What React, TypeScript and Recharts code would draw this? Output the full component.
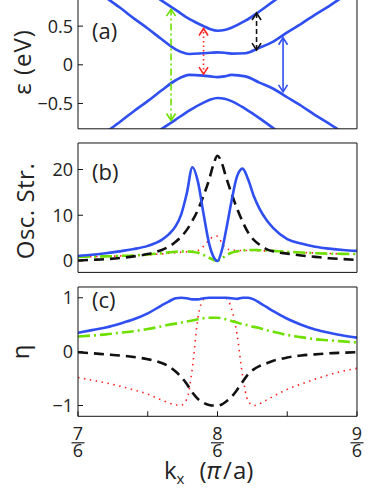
import React from 'react';
import { LineChart, Line, XAxis, YAxis } from 'recharts';

// k grid (numerator of k in units of pi/a, i.e. k = K/6)
const K_A = [7.0, 7.1, 7.2, 7.3, 7.4, 7.5, 7.6, 7.7, 7.8, 7.9, 7.95, 8.0, 8.05, 8.1, 8.2, 8.3, 8.4, 8.5, 8.6, 8.7, 8.8, 8.9, 9.0];
const BAND_OUT_UP = [1.52, 1.4, 1.29, 1.17, 1.06, 0.95, 0.83, 0.71, 0.59, 0.5, 0.46, 0.44, 0.45, 0.48, 0.57, 0.69, 0.82, 0.94, 1.06, 1.18, 1.3, 1.41, 1.53];
const BAND_IN_UP = [1.12, 1.0, 0.87, 0.74, 0.6, 0.47, 0.33, 0.2, 0.14, 0.15, 0.155, 0.16, 0.155, 0.145, 0.15, 0.22, 0.3, 0.42, 0.53, 0.65, 0.76, 0.88, 0.99];
const BAND_IN_DN = [-1.12, -1.0, -0.87, -0.74, -0.6, -0.47, -0.33, -0.2, -0.13, -0.14, -0.15, -0.16, -0.15, -0.13, -0.15, -0.23, -0.31, -0.42, -0.53, -0.65, -0.76, -0.88, -0.99];
const BAND_OUT_DN = [-1.52, -1.4, -1.29, -1.17, -1.06, -0.95, -0.83, -0.71, -0.59, -0.49, -0.45, -0.43, -0.44, -0.47, -0.57, -0.69, -0.82, -0.94, -1.06, -1.18, -1.3, -1.41, -1.53];

// transition arrows in (a)
const ARROW_K = [7.667, 7.9, 8.28, 8.47];
const ARROW_LO = [-0.72, -0.12, 0.19, -0.35];
const ARROW_HI = [0.72, 0.47, 0.67, 0.35];

const K = [7.0, 7.1, 7.2, 7.3, 7.4, 7.5, 7.6, 7.65, 7.7, 7.74, 7.78, 7.82, 7.86, 7.9, 7.94, 7.97, 8.0, 8.03, 8.06, 8.1, 8.14, 8.18, 8.22, 8.26, 8.3, 8.35, 8.4, 8.5, 8.6, 8.7, 8.8, 8.9, 9.0];
const OSC_BLUE = [1.1, 1.35, 1.7, 2.1, 2.6, 3.3, 4.6, 5.8, 7.6, 10.2, 14.8, 20.5, 17.3, 10.3, 3.8, 1.0, 0.0, 2.2, 6.5, 13.0, 18.5, 20.2, 17.8, 14.2, 11.5, 9.0, 7.2, 4.8, 3.8, 3.1, 2.7, 2.4, 2.2];
const OSC_BLACK = [0.1, 0.25, 0.4, 0.65, 1.0, 1.5, 2.4, 3.1, 4.2, 5.3, 6.8, 8.8, 11.2, 14.3, 17.8, 21.0, 23.0, 21.5, 18.5, 14.8, 11.5, 8.6, 6.2, 4.6, 3.6, 2.6, 2.1, 1.6, 1.2, 0.9, 0.6, 0.4, 0.2];
const OSC_GREEN = [0.9, 1.0, 1.0, 1.1, 1.2, 1.4, 1.7, 1.9, 2.0, 2.1, 2.1, 2.0, 1.8, 1.3, 0.7, 0.25, 0.0, 0.5, 1.2, 1.8, 2.1, 2.3, 2.4, 2.4, 2.35, 2.3, 2.2, 2.0, 1.85, 1.7, 1.6, 1.55, 1.5];
const OSC_RED = [0.9, 0.95, 1.0, 1.1, 1.2, 1.35, 1.55, 1.7, 1.8, 1.9, 2.0, 2.1, 2.3, 3.2, 4.6, 5.3, 5.4, 4.0, 2.8, 2.4, 2.3, 2.3, 2.3, 2.3, 2.2, 2.2, 2.1, 2.0, 1.85, 1.75, 1.65, 1.55, 1.5];

const ETA_BLUE = [0.35, 0.4, 0.45, 0.52, 0.6, 0.71, 0.86, 0.93, 0.99, 1.0, 0.99, 0.97, 0.97, 0.99, 1.0, 1.0, 1.0, 1.0, 1.0, 0.99, 0.98, 1.0, 1.0, 0.97, 0.91, 0.83, 0.75, 0.61, 0.5, 0.41, 0.35, 0.3, 0.26];
const ETA_GREEN = [0.28, 0.3, 0.32, 0.35, 0.38, 0.42, 0.47, 0.5, 0.52, 0.54, 0.56, 0.58, 0.6, 0.62, 0.63, 0.63, 0.63, 0.62, 0.6, 0.57, 0.54, 0.51, 0.49, 0.46, 0.44, 0.4, 0.37, 0.31, 0.27, 0.23, 0.21, 0.19, 0.17];
const ETA_BLACK = [-0.01, -0.03, -0.05, -0.07, -0.1, -0.14, -0.21, -0.27, -0.37, -0.47, -0.6, -0.76, -0.88, -0.95, -0.99, -1.0, -1.0, -0.98, -0.93, -0.84, -0.71, -0.56, -0.42, -0.33, -0.27, -0.22, -0.17, -0.11, -0.07, -0.05, -0.03, -0.02, -0.01];
const ETA_RED = [-0.48, -0.53, -0.58, -0.64, -0.71, -0.79, -0.9, -0.95, -0.99, -0.99, -0.88, -0.3, 0.63, 0.97, 1.0, 1.0, 1.0, 1.0, 0.99, 0.8, 0.32, -0.45, -0.92, -1.0, -0.97, -0.9, -0.83, -0.7, -0.6, -0.51, -0.43, -0.36, -0.31];

const X_TICKS = [7, 7.5, 8, 8.5, 9];

const BLUE = '#2f4ff0';
const GREEN = '#6ee000';
const RED = '#ff2222';
const BLACK = '#111';
const FONT = '"Open Sans", "DejaVu Sans", sans-serif';

const bandRows = K_A.map((k, i) => ({
  k,
  outUp: BAND_OUT_UP[i],
  inUp: BAND_IN_UP[i],
  inDn: BAND_IN_DN[i],
  outDn: BAND_OUT_DN[i],
}));

const oscRows = K.map((k, i) => ({ k, blue: OSC_BLUE[i], black: OSC_BLACK[i], green: OSC_GREEN[i], red: OSC_RED[i] }));
const etaRows = K.map((k, i) => ({ k, blue: ETA_BLUE[i], black: ETA_BLACK[i], green: ETA_GREEN[i], red: ETA_RED[i] }));

const arrowData = ARROW_K.map((k, i) => [
  { k, v: ARROW_LO[i] },
  { k, v: ARROW_HI[i] },
]);

const minus = (v: number) => (v < 0 ? '\u2212' + Math.abs(v) : String(v));

function arrowHead(color: string) {
  return (props: any) => {
    const { cx, cy, index } = props;
    const d = index === 0 ? 1 : -1; // first point is the lower tip
    return (
      <path
        key={'ah' + index}
        d={`M${cx - 4.5},${cy - 7 * d} L${cx},${cy} L${cx + 4.5},${cy - 7 * d}`}
        fill="none"
        stroke={color}
        strokeWidth={1.6}
        strokeDasharray="none"
      />
    );
  };
}

// 7/6, 8/6, 9/6 stacked fractions under panel (c)
function FracTick(props: any) {
  const { x, y, payload } = props;
  const v = payload.value;
  if (Math.abs(v - Math.round(v)) > 1e-6) return <g />;
  return (
    <g>
      <text x={x} y={y + 24} textAnchor="middle" fontFamily={FONT} fontSize={18} fill="#222">
        <tspan x={x}>{Math.round(v)}</tspan>
        <tspan x={x} dy={17}>6</tspan>
      </text>
      <line x1={x - 6.5} x2={x + 6.5} y1={y + 26.5} y2={y + 26.5} stroke="#222" strokeWidth={1.2} />
    </g>
  );
}

const tickStyle = { fontFamily: FONT, fontSize: 18, fill: '#222' };

function axes(yDomain: number[], yTicks: number[], bottomHeight: number, bottomTick: any) {
  return [
    <XAxis
      key="xb"
      dataKey="k"
      type="number"
      domain={[7, 9]}
      ticks={X_TICKS}
      interval={0}
      allowDataOverflow
      height={bottomHeight}
      tickSize={-5}
      tickMargin={5}
      tick={bottomTick}
      axisLine={{ stroke: '#111' }}
      tickLine={{ stroke: '#111' }}
    />,
    <XAxis
      key="xt"
      xAxisId="t"
      orientation="top"
      type="number"
      domain={[7, 9]}
      ticks={X_TICKS}
      interval={0}
      allowDataOverflow
      height={10}
      tickSize={-5}
      tick={false}
      axisLine={{ stroke: '#111' }}
      tickLine={{ stroke: '#111' }}
    />,
    <YAxis
      key="yl"
      type="number"
      domain={yDomain}
      ticks={yTicks}
      interval={0}
      allowDataOverflow
      width={78}
      tickSize={-5}
      tickMargin={10}
      tick={tickStyle}
      tickFormatter={minus}
      axisLine={{ stroke: '#111' }}
      tickLine={{ stroke: '#111' }}
    />,
    <YAxis
      key="yr"
      yAxisId="r"
      orientation="right"
      type="number"
      domain={yDomain}
      ticks={yTicks}
      interval={0}
      allowDataOverflow
      width={10}
      tickSize={-5}
      tick={false}
      axisLine={{ stroke: '#111' }}
      tickLine={{ stroke: '#111' }}
    />,
  ];
}

export default function App() {
  const arrowColors = [GREEN, RED, BLACK, BLUE];
  const arrowDash = ['7 3 2 3', '1.5 3', '5 3', undefined];
  return (
    <div style={{ position: 'absolute', left: 0, top: 0, width: 382, height: 492, background: '#fff', overflow: 'hidden' }}>
      <div style={{ position: 'absolute', left: 0, top: -10.8 }}>
        <LineChart width={382} height={149.8} data={bandRows} margin={{ top: 0, right: 15, bottom: 0, left: 0 }}>
          {axes([-0.828, 0.851], [-0.5, 0, 0.5], 10, false)}
          <Line dataKey="outUp" type="monotone" stroke={BLUE} strokeWidth={2.6} dot={false} isAnimationActive={false} />
          <Line dataKey="inUp" type="monotone" stroke={BLUE} strokeWidth={2.6} dot={false} isAnimationActive={false} />
          <Line dataKey="inDn" type="monotone" stroke={BLUE} strokeWidth={2.6} dot={false} isAnimationActive={false} />
          <Line dataKey="outDn" type="monotone" stroke={BLUE} strokeWidth={2.6} dot={false} isAnimationActive={false} />
          {arrowData.map((d, i) => (
            <Line
              key={'arrow' + i}
              data={d}
              dataKey="v"
              type="linear"
              stroke={arrowColors[i]}
              strokeWidth={1.6}
              strokeDasharray={arrowDash[i]}
              dot={arrowHead(arrowColors[i])}
              isAnimationActive={false}
            />
          ))}
        </LineChart>
      </div>
      <div style={{ position: 'absolute', left: 0, top: 133.3 }}>
        <LineChart width={382} height={149.4} data={oscRows} margin={{ top: 0, right: 15, bottom: 0, left: 0 }}>
          {axes([-2.5, 25.8], [0, 10, 20], 10, false)}
          <Line dataKey="red" type="monotone" stroke={RED} strokeWidth={1.6} strokeDasharray="1.5 4.5" dot={false} isAnimationActive={false} />
          <Line dataKey="green" type="monotone" stroke={GREEN} strokeWidth={2.6} strokeDasharray="12 4 2 4" dot={false} isAnimationActive={false} />
          <Line dataKey="black" type="monotone" stroke={BLACK} strokeWidth={2.6} strokeDasharray="10 6" dot={false} isAnimationActive={false} />
          <Line dataKey="blue" type="monotone" stroke={BLUE} strokeWidth={2.6} dot={false} isAnimationActive={false} />
        </LineChart>
      </div>
      <div style={{ position: 'absolute', left: 0, top: 276.7 }}>
        <LineChart width={382} height={199.3} data={etaRows} margin={{ top: 0, right: 15, bottom: 0, left: 0 }}>
          {axes([-1.2, 1.2], [-1, 0, 1], 60, <FracTick />)}
          <Line dataKey="red" type="monotone" stroke={RED} strokeWidth={1.6} strokeDasharray="1.5 4.5" dot={false} isAnimationActive={false} />
          <Line dataKey="green" type="monotone" stroke={GREEN} strokeWidth={2.6} strokeDasharray="12 4 2 4" dot={false} isAnimationActive={false} />
          <Line dataKey="black" type="monotone" stroke={BLACK} strokeWidth={2.6} strokeDasharray="10 6" dot={false} isAnimationActive={false} />
          <Line dataKey="blue" type="monotone" stroke={BLUE} strokeWidth={2.6} dot={false} isAnimationActive={false} />
        </LineChart>
      </div>
      <svg width={382} height={492} style={{ position: 'absolute', left: 0, top: 0, pointerEvents: 'none' }} fontFamily={FONT} fill="#222">
        <text transform="translate(31,62) rotate(-90)" textAnchor="middle" fontSize={24} letterSpacing={1}>ε (eV)</text>
        <text transform="translate(34,211) rotate(-90)" textAnchor="middle" fontSize={24} letterSpacing={0.5}>Osc. Str.</text>
        <text transform="translate(29,352) rotate(-90)" textAnchor="middle" fontSize={24}>η</text>
        <text x={92} y={39} fontSize={22}>(a)</text>
        <text x={92} y={180} fontSize={22}>(b)</text>
        <text x={92} y={308} fontSize={22}>(c)</text>
        <text x={164} y={479} fontSize={24}>
          k<tspan fontSize={15} dy={5}>x</tspan>
          <tspan dy={-5} dx={15}>(</tspan>
          <tspan fontStyle="italic">π</tspan>
          <tspan dx={2}>/</tspan>
          <tspan dx={1}>a)</tspan>
        </text>
      </svg>
    </div>
  );
}
